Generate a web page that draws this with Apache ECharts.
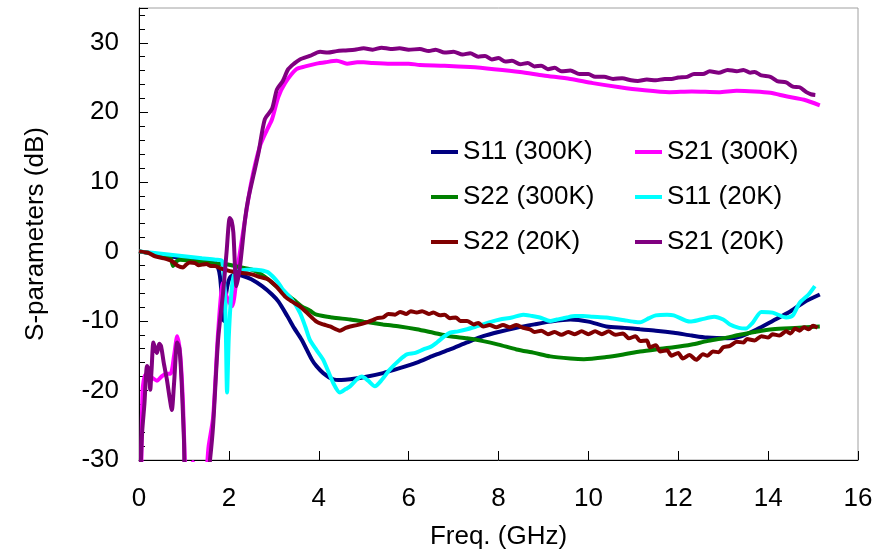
<!DOCTYPE html>
<html>
<head>
<meta charset="utf-8">
<script src="https://cdn.jsdelivr.net/npm/echarts@6/dist/echarts.min.js"></script>
<style>
  html, body { margin: 0; padding: 0; background: #fff; }
  #chart { width: 888px; height: 555px; }
</style>
</head>
<body>
<div id="chart"></div>
<script>
// Frequency axis ticks (GHz) and magnitude ticks (dB)
const freqTicks = [0, 2, 4, 6, 8, 10, 12, 14, 16];
const dbTicks = [-30, -20, -10, 0, 10, 20, 30];

// S11 at 300 K
const s11_300K_f  = [0, 0.3, 0.6, 0.9, 1.2, 1.5, 1.7, 1.8, 1.89, 1.94, 2.02, 2.15, 2.3, 2.5, 2.74, 2.96, 3.1, 3.3, 3.45, 3.62, 3.85, 3.95, 4.1, 4.32, 4.5, 4.7, 5.0, 5.43, 5.8, 6.18, 6.55, 6.92, 7.3, 7.66, 8.0, 8.4, 8.8, 9.15, 9.6, 10.0, 10.4, 10.8, 11.15, 11.5, 11.9, 12.3, 12.64, 13.1, 13.4, 13.75, 14.1, 14.5, 14.8, 15.15];
const s11_300K_db = [0, -0.3, -0.6, -0.9, -1.1, -1.3, -1.6, -3.5, -10.0, -6.0, -3.8, -3.3, -3.5, -4.0, -5.0, -6.2, -7.2, -9.3, -11.0, -12.7, -15.6, -16.5, -17.5, -18.4, -18.5, -18.4, -18.1, -17.5, -16.8, -16.0, -15.0, -14.1, -13.1, -12.2, -11.6, -11.0, -10.5, -10.1, -9.8, -10.1, -10.8, -11.0, -11.2, -11.4, -11.7, -12.1, -12.4, -12.5, -12.2, -11.2, -10.0, -8.6, -7.3, -6.2];

// S21 at 300 K
const s21_300K_f  = [0.05, 0.08, 0.15, 0.3, 0.4, 0.5, 0.6, 0.7, 0.78, 0.85, 0.92, 0.98, 1.02, 1.06, 1.2, 1.34, 1.45, 1.55, 1.65, 1.76, 1.87, 1.95, 2.07, 2.2, 2.36, 2.5, 2.69, 2.85, 2.96, 3.1, 3.25, 3.5, 3.7, 3.95, 4.15, 4.4, 4.63, 4.86, 5.0, 5.2, 5.6, 6.0, 6.25, 6.8, 7.37, 7.9, 8.48, 9.0, 9.6, 10.1, 10.7, 11.2, 11.8, 12.3, 12.9, 13.3, 13.7, 14.05, 14.4, 14.8, 15.15];
const s21_300K_db = [-34, -20, -17.7, -18.2, -18.6, -18.0, -17.6, -17.6, -15.0, -12.2, -15.0, -22.0, -30.0, -34, -30.3, -34, -34, -28.0, -23.8, -11.7, -4.5, -6.5, -7.9, -2.1, 4.6, 10.0, 15.1, 17.5, 19.0, 22.2, 24.2, 26.2, 26.6, 27.0, 27.2, 27.4, 27.0, 27.2, 27.2, 27.1, 27.0, 27.0, 26.8, 26.7, 26.5, 26.2, 25.8, 25.3, 24.8, 24.2, 23.6, 23.2, 22.9, 23.0, 22.9, 23.1, 23.0, 22.8, 22.3, 21.8, 21.0];

// S22 at 300 K
const s22_300K_f  = [0, 0.3, 0.6, 0.7, 0.76, 0.82, 0.91, 1.2, 1.5, 1.8, 1.98, 2.2, 2.5, 2.7, 2.87, 3.05, 3.25, 3.45, 3.62, 3.8, 3.95, 4.3, 4.7, 5.0, 5.43, 5.8, 6.18, 6.55, 6.92, 7.3, 7.66, 8.0, 8.4, 8.8, 9.15, 9.6, 9.9, 10.4, 10.8, 11.15, 11.5, 11.9, 12.3, 12.64, 13.0, 13.37, 13.7, 14.1, 14.6, 15.15];
const s22_300K_db = [0, -0.3, -0.6, -0.9, -2.1, -1.5, -1.2, -1.4, -1.6, -1.8, -1.9, -2.2, -2.6, -3.2, -4.0, -5.0, -6.0, -7.0, -7.9, -8.5, -9.1, -9.5, -9.8, -10.1, -10.5, -10.8, -11.2, -11.7, -12.2, -12.5, -12.9, -13.4, -14.1, -14.6, -15.1, -15.4, -15.5, -15.2, -14.8, -14.4, -14.1, -13.8, -13.4, -12.9, -12.5, -12.0, -11.6, -11.2, -11.0, -10.8];

// S11 at 20 K
const s11_20K_f  = [0, 0.3, 0.6, 1.0, 1.4, 1.7, 1.85, 1.92, 1.96, 2.0, 2.07, 2.14, 2.3, 2.51, 2.7, 2.87, 3.1, 3.2, 3.4, 3.58, 3.7, 3.8, 3.95, 4.1, 4.32, 4.47, 4.6, 4.7, 4.85, 4.96, 5.1, 5.25, 5.4, 5.58, 5.8, 5.96, 6.15, 6.33, 6.5, 6.63, 6.8, 6.92, 7.1, 7.3, 7.5, 7.66, 7.85, 8.03, 8.3, 8.55, 8.75, 8.92, 9.15, 9.3, 9.52, 9.7, 9.88, 10.1, 10.4, 10.8, 11.0, 11.15, 11.35, 11.5, 11.75, 11.9, 12.26, 12.5, 12.8, 13.0, 13.15, 13.35, 13.5, 13.65, 13.85, 14.1, 14.4, 14.55, 14.7, 14.9, 15.04];
const s11_20K_db = [0, -0.2, -0.4, -0.7, -1.0, -1.2, -1.4, -8.0, -20.3, -12.0, -5.0, -3.0, -2.7, -2.6, -2.7, -3.0, -4.5, -5.5, -6.9, -8.8, -10.8, -12.7, -14.2, -15.6, -18.9, -20.3, -19.8, -19.4, -18.4, -18.0, -18.6, -19.4, -18.5, -17.0, -15.6, -14.8, -14.6, -14.1, -13.7, -13.1, -12.2, -11.7, -11.5, -11.2, -10.8, -10.5, -10.1, -9.8, -9.5, -9.1, -9.3, -9.5, -10.0, -9.8, -9.5, -9.3, -9.3, -9.4, -9.5, -9.9, -10.1, -10.2, -9.6, -9.2, -9.1, -9.2, -10.1, -9.8, -9.4, -9.8, -10.5, -11.0, -11.1, -10.3, -8.7, -8.8, -9.5, -9.2, -7.4, -6.2, -5.0];

// S22 at 20 K
const s22_20K_f  = [0, 0.2, 0.36, 0.55, 0.73, 0.87, 0.98, 1.05, 1.13, 1.25, 1.33, 1.4, 1.5, 1.6, 1.69, 1.8, 1.95, 2.07, 2.3, 2.51, 2.7, 2.87, 3.05, 3.25, 3.4, 3.58, 3.75, 3.95, 4.1, 4.25, 4.47, 4.6, 4.7, 4.85, 5.07, 5.2, 5.3, 5.43, 5.55, 5.7, 5.81, 5.95, 6.05, 6.18, 6.3, 6.45, 6.55, 6.7, 6.8, 6.92, 7.05, 7.15, 7.3, 7.45, 7.55, 7.66, 7.8, 7.95, 8.1, 8.25, 8.4, 8.55, 8.7, 8.8, 8.95, 9.1, 9.25, 9.4, 9.55, 9.7, 9.85, 10.0, 10.15, 10.3, 10.45, 10.6, 10.77, 10.9, 11.05, 11.15, 11.3, 11.37, 11.5, 11.6, 11.75, 11.85, 12.0, 12.1, 12.25, 12.4, 12.55, 12.65, 12.77, 12.9, 13.0, 13.15, 13.3, 13.45, 13.53, 13.7, 13.85, 14.0, 14.1, 14.25, 14.4, 14.5, 14.6, 14.7, 14.8, 14.9, 15.0, 15.1];
const s22_20K_db = [0, -0.2, -0.7, -1.0, -1.4, -2.1, -2.3, -1.9, -1.6, -1.7, -2.0, -1.9, -1.8, -2.1, -2.1, -2.4, -2.7, -2.9, -3.1, -3.3, -3.7, -4.0, -5.0, -6.5, -7.2, -7.9, -8.9, -10.1, -10.5, -10.8, -11.4, -11.0, -10.8, -10.6, -10.2, -9.9, -9.6, -9.5, -9.0, -9.1, -8.7, -9.0, -8.6, -8.8, -8.6, -9.0, -8.8, -9.2, -9.1, -9.6, -9.5, -10.0, -10.0, -10.5, -10.3, -10.8, -10.6, -10.9, -10.6, -10.9, -10.6, -11.0, -11.2, -11.6, -11.4, -11.9, -11.6, -12.0, -11.6, -11.9, -11.5, -11.9, -11.5, -11.9, -11.5, -12.0, -11.8, -12.5, -12.2, -12.9, -12.8, -13.8, -13.5, -14.4, -14.2, -15.0, -14.6, -15.4, -14.9, -15.6, -14.8, -15.0, -14.4, -14.5, -13.8, -13.6, -13.0, -13.1, -12.6, -12.8, -12.2, -12.4, -11.9, -12.1, -11.5, -11.8, -11.1, -11.4, -10.9, -11.2, -10.7, -11.0];

// S21 at 20 K
const s21_20K_f  = [0.02, 0.07, 0.12, 0.18, 0.22, 0.25, 0.28, 0.32, 0.36, 0.4, 0.45, 0.49, 0.55, 0.62, 0.68, 0.73, 0.78, 0.85, 0.9, 0.95, 1.0, 1.05, 1.5, 1.58, 1.65, 1.76, 1.87, 1.95, 2.02, 2.06, 2.1, 2.17, 2.25, 2.36, 2.43, 2.55, 2.66, 2.8, 2.96, 3.07, 3.2, 3.32, 3.45, 3.58, 3.8, 4.03, 4.2, 4.4, 4.6, 4.8, 5.0, 5.2, 5.4, 5.6, 5.8, 6.0, 6.25, 6.45, 6.6, 6.8, 7.0, 7.2, 7.37, 7.55, 7.7, 7.85, 8.0, 8.15, 8.3, 8.48, 8.65, 8.8, 8.95, 9.1, 9.25, 9.4, 9.6, 9.8, 10.0, 10.15, 10.35, 10.55, 10.75, 10.95, 11.1, 11.3, 11.5, 11.7, 11.85, 12.0, 12.2, 12.35, 12.55, 12.7, 12.9, 13.1, 13.3, 13.45, 13.6, 13.7, 13.85, 14.05, 14.2, 14.4, 14.55, 14.7, 14.85, 14.95, 15.05];
const s21_20K_db = [-34, -26, -22, -16.5, -17.0, -19.9, -17.0, -13.1, -14.0, -14.6, -13.3, -13.6, -16.0, -18.4, -21.0, -22.8, -19.0, -13.1, -14.0, -19.0, -27.0, -34, -34, -30.0, -25.0, -12.7, -6.0, 0.0, 4.8, 4.4, 2.7, -5.0, -2.0, 4.6, 7.5, 11.0, 14.2, 19.0, 20.5, 23.3, 24.5, 26.2, 27.0, 27.6, 28.1, 28.7, 28.6, 28.8, 28.9, 29.0, 29.2, 29.0, 29.3, 29.1, 29.2, 29.0, 29.1, 28.8, 29.0, 28.6, 28.7, 28.3, 28.5, 28.0, 28.1, 27.6, 27.8, 27.3, 27.4, 26.9, 27.1, 26.6, 26.7, 26.2, 26.4, 25.9, 26.0, 25.5, 25.5, 25.1, 25.1, 24.8, 24.9, 24.6, 24.5, 24.7, 24.6, 24.8, 24.8, 25.0, 25.1, 25.5, 25.5, 25.9, 25.7, 26.1, 25.9, 26.1, 25.7, 25.8, 25.3, 25.1, 24.5, 24.3, 23.7, 23.6, 22.9, 22.6, 22.5];

const seriesDefs = [
  { name: 'S11 (300K)', f: s11_300K_f, db: s11_300K_db, color: '#000080' },
  { name: 'S21 (300K)', f: s21_300K_f, db: s21_300K_db, color: '#FF00FF' },
  { name: 'S22 (300K)', f: s22_300K_f, db: s22_300K_db, color: '#008000' },
  { name: 'S11 (20K)',  f: s11_20K_f,  db: s11_20K_db,  color: '#00FFFF' },
  { name: 'S22 (20K)',  f: s22_20K_f,  db: s22_20K_db,  color: '#800000' },
  { name: 'S21 (20K)',  f: s21_20K_f,  db: s21_20K_db,  color: '#800080' }
];

const FONT = "'Liberation Sans', Arial, sans-serif";
const FS = 26;

const chart = echarts.init(document.getElementById('chart'), null, { renderer: 'canvas' });

const legendStyle = {
  orient: 'vertical',
  top: 134,
  icon: 'rect',
  itemWidth: 27,
  itemHeight: 4,
  itemGap: 19,
  textStyle: { fontFamily: FONT, fontSize: FS, color: '#000', lineHeight: 26 }
};

chart.setOption({
  animation: false,
  backgroundColor: '#fff',
  color: seriesDefs.map(s => s.color),
  grid: {
    left: 139, right: 30, top: 8, bottom: 94,
    show: true, borderColor: '#a0a0a0', borderWidth: 1, backgroundColor: 'transparent'
  },
  legend: [
    Object.assign({ left: 426, data: ['S11 (300K)', 'S22 (300K)', 'S22 (20K)'] }, legendStyle),
    Object.assign({ left: 630, data: ['S21 (300K)', 'S11 (20K)', 'S21 (20K)'] }, legendStyle)
  ],
  xAxis: {
    type: 'value',
    min: freqTicks[0], max: freqTicks[freqTicks.length - 1], interval: 2,
    name: 'Freq. (GHz)', nameLocation: 'middle', nameGap: 64,
    nameTextStyle: { fontFamily: FONT, fontSize: FS, color: '#000' },
    axisLine: { onZero: false, lineStyle: { color: '#000', width: 1 } },
    axisTick: { inside: true, length: 9, lineStyle: { color: '#000' } },
    axisLabel: { fontFamily: FONT, fontSize: FS, color: '#000', margin: 26 },
    splitLine: { show: false }
  },
  yAxis: {
    type: 'value',
    min: dbTicks[0], max: 35, interval: 10,
    name: 'S-parameters (dB)', nameLocation: 'middle', nameGap: 90,
    nameTextStyle: { fontFamily: FONT, fontSize: FS, color: '#000' },
    axisLine: { show: true, onZero: false, lineStyle: { color: '#000', width: 1 } },
    axisTick: { inside: true, length: 9, lineStyle: { color: '#000' } },
    minorTick: { show: true, splitNumber: 5, length: 6, lineStyle: { color: '#000' } },
    axisLabel: { fontFamily: FONT, fontSize: FS, color: '#000', margin: 20, showMaxLabel: false },
    splitLine: { show: false }
  },
  series: seriesDefs.map(s => ({
    name: s.name,
    type: 'line',
    data: s.f.map((f, i) => [f, s.db[i]]),
    showSymbol: false,
    smooth: 0.25,
    clip: true,
    lineStyle: { color: s.color, width: 4 },
    itemStyle: { color: s.color }
  }))
});
</script>
</body>
</html>
